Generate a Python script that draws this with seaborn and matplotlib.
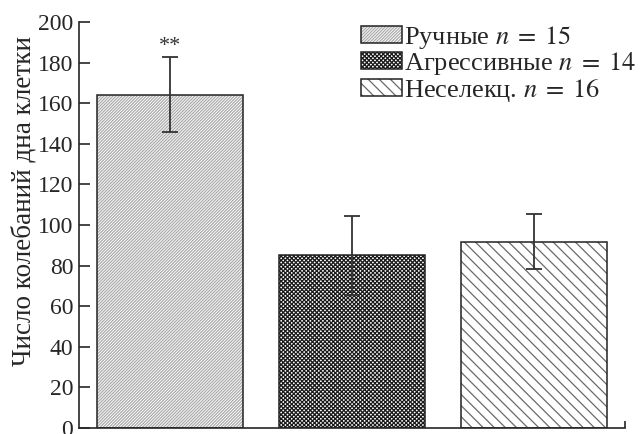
import numpy as np
import pandas as pd
import matplotlib
matplotlib.use("Agg")
import matplotlib.pyplot as plt
import matplotlib.patches as mpatches
import seaborn as sns

# data
groups = ["Ручные", "Агрессивные", "Неселекц."]
n_vals = [15, 14, 16]
means = [164.3, 85.0, 91.7]
errs = [18.3, 19.5, 13.6]
hatches = ["/" * 11, "x" * 8, "\\" * 3]
y_ticks = [0, 20, 40, 60, 80, 100, 120, 140, 160, 180, 200]

sns.set_style("ticks")
plt.rcParams["font.family"] = ["Liberation Serif", "DejaVu Serif"]
plt.rcParams["mathtext.fontset"] = "stix"
plt.rcParams["hatch.linewidth"] = 0.9

df = pd.DataFrame({"group": groups, "mean": means, "err": errs})

fig = plt.figure(figsize=(6.41, 4.34), dpi=100)
ax = fig.add_axes([0.123, 0.014, 0.852, 0.935])

hcols = ["#ababab", "#1a1a1a", "#6a6a6a"]
sns.barplot(data=df, x="group", y="mean", color="white", width=0.8,
            linewidth=0, errorbar=None, ax=ax)
# hatch takes the edge colour, so outline each bar again on top
for p, h, hc in zip(list(ax.patches), hatches, hcols):
    p.set_hatch(h)
    p.set_edgecolor(hc)
    ax.add_patch(mpatches.Rectangle(p.get_xy(), p.get_width(), p.get_height(),
                                    fill=False, edgecolor="#222222", linewidth=1.1,
                                    zorder=p.get_zorder() + 0.1))

ax.errorbar(np.arange(len(groups)), df["mean"], yerr=df["err"], fmt="none",
            ecolor="#333333", elinewidth=1.3, capsize=6, capthick=1.3, zorder=5)
ax.text(0, means[0] + errs[0] + 0.5, "**", ha="center", va="bottom", fontsize=16,
        color="#333333")

ax.set_ylim(0, 200)
ax.set_xlim(-0.5, 2.5)
ax.set_yticks(y_ticks)
ax.set_xticks([2.5])
ax.set_xticklabels([""])
ax.tick_params(axis="y", direction="in", length=8, width=1.2, labelsize=17, pad=4)
ax.tick_params(axis="x", direction="in", length=5, width=1.2)
ax.set_xlabel("")
ax.set_ylabel("Число колебаний дна клетки", fontsize=19.5)
ax.yaxis.set_label_coords(-0.078, 0.56)
for s in ["left", "bottom"]:
    ax.spines[s].set_linewidth(1.2)
sns.despine(ax=ax)

handles = [mpatches.Patch(facecolor="white", edgecolor=hc, hatch=h, linewidth=0)
           for h, hc in zip(hatches, hcols)]
handles = [(hp, mpatches.Patch(fill=False, edgecolor="#222222", linewidth=1.1))
           for hp in handles]
labels = [f"{g} $n\\;=\\;{n}$" for g, n in zip(groups, n_vals)]
ax.legend(handles, labels, loc="upper right", bbox_to_anchor=(1.05, 1.035),
          frameon=False, fontsize=19, handlelength=1.55, handleheight=0.62,
          handletextpad=0.1, labelspacing=-0.02, borderaxespad=0.2)

fig.savefig("out.png", dpi=100)
